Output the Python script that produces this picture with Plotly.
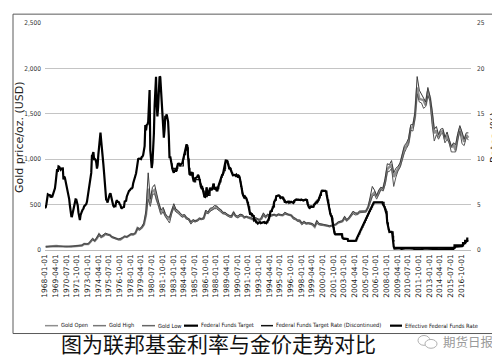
import pandas as pd
import plotly.graph_objects as go

# ---------------- data ----------------
# Gold, quarterly samples (USD/oz)
gold_open = [
    35.2, 38.0, 39.5, 39.3, 42.5, 43.3, 42.0, 40.8, 35.0, 35.8, 35.3, 37.5,
    37.9, 39.5, 40.9, 42.5, 45.7, 49.0, 65.7, 64.9, 65.1, 90.5, 120.0, 100.1,
    129.2, 172.2, 143.0, 154.1, 176.3, 169.7, 166.3, 142.9, 131.6, 128.4, 117.8, 116.0,
    132.3, 149.2, 143.0, 158.5, 173.2, 170.9, 183.1, 242.0, 227.3, 245.3, 281.8, 391.7,
    675.3, 517.0, 643.0, 661.2, 557.0, 494.0, 409.0, 447.0, 384.0, 350.5, 342.0, 423.0,
    480.0, 432.0, 422.0, 394.0, 370.0, 380.0, 348.0, 340.0, 303.0, 324.0, 317.0, 325.0,
    345.0, 340.0, 348.0, 423.0, 408.0, 438.0, 449.0, 467.0, 476.0, 450.0, 437.0, 406.0,
    404.0, 385.0, 375.0, 367.0, 410.0, 373.0, 362.0, 380.0, 383.0, 357.0, 367.0, 357.0,
    354.0, 338.0, 352.0, 344.0, 329.0, 342.0, 393.0, 364.0, 387.0, 376.0, 385.0, 389.0,
    379.0, 392.0, 386.0, 383.0, 400.0, 393.0, 383.0, 381.0, 355.0, 344.0, 324.0, 324.0,
    289.0, 308.0, 293.0, 296.0, 287.0, 282.0, 256.0, 311.0, 284.0, 280.0, 282.0, 270.0,
    266.0, 261.0, 268.0, 279.0, 282.0, 302.0, 314.0, 317.0, 357.0, 328.0, 347.0, 379.0,
    414.0, 404.0, 398.0, 420.0, 424.0, 429.0, 425.0, 470.0, 550.0, 610.0, 633.0, 586.0,
    631.0, 679.0, 665.0, 754.0, 889.0, 910.0, 940.0, 806.0, 858.0, 891.0, 934.0, 1043.0,
    1118.0, 1148.0, 1193.0, 1342.0, 1356.0, 1474.0, 1790.0, 1665.0, 1656.0, 1650.0, 1594.0, 1747.0,
    1670.0, 1487.0, 1286.0, 1316.0, 1244.0, 1299.0, 1311.0, 1222.0, 1251.0, 1197.0, 1130.0, 1159.0,
    1097.0, 1242.0, 1337.0, 1266.0, 1192.0, 1266.0, 1236.0,
]
gold_high = [
    36.5, 41.5, 40.5, 40.5, 43.8, 44.0, 42.8, 41.5, 35.6, 36.2, 36.0, 38.0,
    38.5, 40.5, 42.5, 43.0, 48.5, 54.0, 70.0, 66.0, 72.0, 102.0, 127.0, 104.0,
    140.0, 179.5, 152.0, 165.0, 185.0, 176.0, 168.0, 148.0, 135.0, 130.0, 120.0, 124.0,
    136.0, 152.0, 146.0, 163.0, 178.0, 176.0, 190.0, 245.0, 235.0, 255.0, 300.0, 440.0,
    850.0, 560.0, 690.0, 720.0, 600.0, 520.0, 440.0, 470.0, 400.0, 370.0, 360.0, 440.0,
    510.0, 450.0, 435.0, 405.0, 385.0, 390.0, 358.0, 345.0, 310.0, 335.0, 322.0, 330.0,
    350.0, 345.0, 357.0, 440.0, 415.0, 460.0, 465.0, 490.0, 485.0, 460.0, 445.0, 415.0,
    415.0, 395.0, 380.0, 375.0, 420.0, 380.0, 375.0, 395.0, 390.0, 365.0, 370.0, 362.0,
    360.0, 345.0, 358.0, 348.0, 335.0, 360.0, 406.0, 370.0, 395.0, 382.0, 390.0, 393.0,
    383.0, 396.0, 390.0, 387.0, 416.0, 398.0, 388.0, 385.0, 360.0, 348.0, 330.0, 330.0,
    295.0, 315.0, 296.0, 300.0, 292.0, 292.0, 262.0, 325.0, 292.0, 288.0, 285.0, 273.0,
    270.0, 268.0, 272.0, 283.0, 286.0, 310.0, 318.0, 322.0, 370.0, 335.0, 355.0, 388.0,
    427.0, 408.0, 405.0, 428.0, 430.0, 435.0, 430.0, 475.0, 575.0, 700.0, 660.0, 600.0,
    660.0, 690.0, 680.0, 790.0, 950.0, 940.0, 985.0, 850.0, 900.0, 920.0, 960.0, 1070.0,
    1150.0, 1180.0, 1230.0, 1380.0, 1380.0, 1520.0, 1910.0, 1760.0, 1720.0, 1670.0, 1630.0, 1790.0,
    1690.0, 1540.0, 1330.0, 1360.0, 1270.0, 1330.0, 1340.0, 1240.0, 1300.0, 1220.0, 1140.0, 1180.0,
    1160.0, 1280.0, 1370.0, 1300.0, 1220.0, 1290.0, 1290.0,
]
gold_low = [
    35.0, 37.5, 38.5, 38.8, 42.0, 42.5, 41.0, 39.5, 34.7, 35.2, 34.9, 37.0,
    37.5, 39.0, 40.5, 42.0, 45.0, 48.0, 63.5, 63.0, 64.0, 88.0, 110.0, 96.0,
    125.0, 160.0, 137.0, 150.0, 172.0, 165.0, 158.0, 138.0, 128.0, 126.0, 112.0, 114.0,
    130.0, 146.0, 140.0, 156.0, 170.0, 168.0, 180.0, 225.0, 220.0, 240.0, 277.0, 380.0,
    560.0, 480.0, 610.0, 620.0, 530.0, 470.0, 390.0, 420.0, 370.0, 330.0, 297.0, 400.0,
    470.0, 420.0, 405.0, 380.0, 362.0, 370.0, 340.0, 330.0, 285.0, 315.0, 310.0, 318.0,
    335.0, 335.0, 340.0, 410.0, 400.0, 425.0, 440.0, 455.0, 455.0, 440.0, 425.0, 400.0,
    395.0, 378.0, 362.0, 360.0, 400.0, 365.0, 355.0, 375.0, 375.0, 355.0, 360.0, 352.0,
    348.0, 335.0, 345.0, 338.0, 326.0, 338.0, 380.0, 355.0, 380.0, 370.0, 380.0, 383.0,
    374.0, 385.0, 382.0, 380.0, 397.0, 388.0, 380.0, 376.0, 340.0, 338.0, 315.0, 310.0,
    280.0, 300.0, 285.0, 290.0, 283.0, 276.0, 252.0, 295.0, 280.0, 273.0, 275.0, 264.0,
    262.0, 256.0, 265.0, 275.0, 278.0, 298.0, 305.0, 312.0, 345.0, 320.0, 342.0, 370.0,
    400.0, 385.0, 390.0, 410.0, 415.0, 420.0, 418.0, 460.0, 530.0, 590.0, 610.0, 560.0,
    610.0, 665.0, 650.0, 720.0, 860.0, 865.0, 900.0, 700.0, 800.0, 870.0, 910.0, 1000.0,
    1070.0, 1120.0, 1160.0, 1320.0, 1310.0, 1450.0, 1720.0, 1630.0, 1620.0, 1560.0, 1580.0, 1700.0,
    1640.0, 1380.0, 1200.0, 1270.0, 1220.0, 1270.0, 1290.0, 1180.0, 1220.0, 1180.0, 1080.0, 1080.0,
    1080.0, 1210.0, 1310.0, 1170.0, 1150.0, 1240.0, 1210.0,
]
gold_dates = pd.date_range("1968-02-01", periods=len(gold_open), freq="3MS")

# Effective Federal Funds Rate, monthly from 1968-01 (%)
effr = [
    4.61, 4.71, 5.05, 5.76, 6.12, 6.07, 6.02, 6.03, 5.78, 5.91, 5.82, 6.02,
    6.30, 6.64, 6.79, 7.41, 8.67, 8.90, 8.61, 9.19, 9.15, 9.00, 8.85, 8.97,
    8.98, 8.98, 7.76, 8.10, 7.94, 7.60, 7.21, 6.61, 6.29, 6.20, 5.60, 4.90,
    4.14, 3.72, 3.71, 4.16, 4.63, 4.91, 5.31, 5.57, 5.55, 5.20, 4.91, 4.14,
    3.50, 3.29, 3.83, 4.17, 4.27, 4.46, 4.55, 4.80, 4.87, 5.04, 5.06, 5.33,
    5.94, 6.58, 7.09, 7.12, 7.84, 8.49, 10.40, 10.50, 10.78, 10.01, 10.03, 9.95,
    9.65, 8.97, 9.35, 10.51, 11.31, 11.93, 12.92, 12.01, 11.34, 10.06, 9.45, 8.53,
    7.13, 6.24, 5.54, 5.49, 5.22, 5.55, 6.10, 6.14, 6.24, 5.82, 5.22, 5.20,
    4.87, 4.77, 4.84, 4.82, 5.29, 5.48, 5.31, 5.29, 5.25, 5.03, 4.95, 4.65,
    4.61, 4.68, 4.69, 4.73, 5.35, 5.39, 5.42, 5.90, 6.14, 6.47, 6.51, 6.56,
    6.70, 6.78, 6.79, 6.89, 7.36, 7.60, 7.81, 8.04, 8.45, 8.96, 9.76, 10.03,
    10.07, 10.06, 10.09, 10.01, 10.24, 10.29, 10.47, 10.94, 11.43, 13.77, 13.18, 13.78,
    13.82, 14.13, 17.19, 17.61, 10.98, 9.47, 9.03, 9.61, 10.87, 12.81, 15.85, 18.90,
    19.08, 15.93, 14.70, 15.72, 18.52, 19.10, 19.04, 17.82, 15.87, 15.08, 13.31, 12.37,
    13.22, 14.78, 14.68, 14.94, 14.45, 14.15, 12.59, 10.12, 10.31, 9.71, 9.20, 8.95,
    8.68, 8.51, 8.77, 8.80, 8.63, 8.98, 9.37, 9.56, 9.45, 9.48, 9.34, 9.47,
    9.56, 9.59, 9.91, 10.29, 10.32, 11.06, 11.23, 11.64, 11.30, 9.99, 9.43, 8.38,
    8.35, 8.50, 8.58, 8.27, 7.97, 7.53, 7.88, 7.90, 7.92, 7.99, 8.05, 8.27,
    8.14, 7.86, 7.48, 6.99, 6.85, 6.92, 6.56, 6.17, 5.89, 5.85, 6.04, 6.91,
    6.43, 6.10, 6.13, 6.37, 6.85, 6.73, 6.58, 6.73, 7.22, 7.29, 6.69, 6.77,
    6.83, 6.58, 6.58, 6.87, 7.09, 7.51, 7.75, 8.01, 8.19, 8.30, 8.35, 8.76,
    9.12, 9.36, 9.85, 9.84, 9.81, 9.53, 9.24, 8.99, 9.02, 8.84, 8.55, 8.45,
    8.23, 8.24, 8.28, 8.26, 8.18, 8.29, 8.15, 8.13, 8.20, 8.11, 7.81, 7.31,
    6.91, 6.25, 6.12, 5.91, 5.78, 5.90, 5.82, 5.66, 5.45, 5.21, 4.81, 4.43,
    4.03, 4.06, 3.98, 3.73, 3.82, 3.76, 3.25, 3.30, 3.22, 3.10, 3.09, 2.92,
    3.02, 3.03, 3.07, 2.96, 3.00, 3.04, 3.06, 3.03, 3.09, 2.99, 3.02, 2.96,
    3.05, 3.25, 3.34, 3.56, 4.01, 4.25, 4.26, 4.47, 4.73, 4.76, 5.29, 5.45,
    5.53, 5.92, 5.98, 6.05, 6.01, 6.00, 5.85, 5.74, 5.80, 5.76, 5.80, 5.60,
    5.56, 5.22, 5.31, 5.22, 5.24, 5.27, 5.40, 5.22, 5.30, 5.24, 5.31, 5.29,
    5.25, 5.19, 5.39, 5.51, 5.50, 5.56, 5.52, 5.54, 5.54, 5.50, 5.52, 5.50,
    5.56, 5.51, 5.49, 5.45, 5.49, 5.56, 5.54, 5.55, 5.51, 5.07, 4.83, 4.68,
    4.63, 4.76, 4.81, 4.74, 4.74, 4.76, 4.99, 5.07, 5.22, 5.20, 5.42, 5.30,
    5.45, 5.73, 5.85, 6.02, 6.27, 6.53, 6.54, 6.50, 6.52, 6.51, 6.51, 6.40,
    5.98, 5.49, 5.31, 4.80, 4.21, 3.97, 3.77, 3.65, 3.07, 2.49, 2.09, 1.82,
    1.73, 1.74, 1.73, 1.75, 1.75, 1.75, 1.73, 1.74, 1.75, 1.75, 1.34, 1.24,
    1.24, 1.26, 1.25, 1.26, 1.26, 1.22, 1.01, 1.03, 1.01, 1.01, 1.00, 0.98,
    1.00, 1.01, 1.00, 1.00, 1.00, 1.03, 1.26, 1.43, 1.61, 1.76, 1.93, 2.16,
    2.28, 2.50, 2.63, 2.79, 3.00, 3.04, 3.26, 3.50, 3.62, 3.78, 4.00, 4.16,
    4.29, 4.49, 4.59, 4.79, 4.94, 4.99, 5.24, 5.25, 5.25, 5.25, 5.25, 5.24,
    5.25, 5.26, 5.26, 5.25, 5.25, 5.25, 5.26, 5.02, 4.94, 4.76, 4.49, 4.24,
    3.94, 2.98, 2.61, 2.28, 1.98, 2.00, 2.01, 2.00, 1.81, 0.97, 0.39, 0.16,
    0.15, 0.22, 0.18, 0.15, 0.18, 0.21, 0.16, 0.16, 0.15, 0.12, 0.12, 0.12,
    0.11, 0.13, 0.16, 0.20, 0.20, 0.18, 0.18, 0.19, 0.19, 0.19, 0.19, 0.18,
    0.17, 0.16, 0.14, 0.10, 0.09, 0.09, 0.07, 0.10, 0.08, 0.07, 0.08, 0.07,
    0.08, 0.10, 0.13, 0.14, 0.16, 0.16, 0.16, 0.13, 0.14, 0.16, 0.16, 0.16,
    0.14, 0.15, 0.14, 0.15, 0.11, 0.09, 0.09, 0.08, 0.08, 0.09, 0.08, 0.09,
    0.07, 0.07, 0.08, 0.09, 0.09, 0.10, 0.09, 0.09, 0.09, 0.09, 0.09, 0.12,
    0.11, 0.11, 0.11, 0.12, 0.12, 0.13, 0.13, 0.14, 0.14, 0.12, 0.12, 0.24,
    0.34, 0.38, 0.36, 0.37, 0.37, 0.38, 0.39, 0.40, 0.40, 0.40, 0.41, 0.54,
    0.65, 0.66, 0.79, 0.90, 0.91, 1.04, 1.15,
]
effr_dates = pd.date_range("1968-01-01", periods=len(effr), freq="MS")

# Federal Funds Target Rate (Discontinued), step changes
target_disc_dates = [
    "1982-10-01", "1982-11-20", "1983-05-20", "1983-06-24", "1983-07-20", "1983-10-01",
    "1984-03-15", "1984-04-05", "1984-06-15", "1984-07-15", "1984-09-20", "1984-10-15",
    "1984-11-20", "1984-12-20", "1985-02-20", "1985-05-20", "1985-06-20", "1985-08-20",
    "1986-03-07", "1986-04-21", "1986-07-11", "1986-08-21", "1987-01-01", "1987-05-01",
    "1987-09-04", "1987-11-04", "1988-01-28", "1988-03-30", "1988-05-09", "1988-06-22",
    "1988-08-09", "1988-09-26", "1988-11-17", "1988-12-15", "1989-02-09", "1989-02-24",
    "1989-06-06", "1989-07-07", "1989-10-18", "1989-11-06", "1989-12-20", "1990-07-13",
    "1990-10-29", "1990-11-13", "1990-12-07", "1991-01-09", "1991-02-01", "1991-03-08",
    "1991-04-30", "1991-08-06", "1991-09-13", "1991-10-31", "1991-11-06", "1991-12-20",
    "1992-04-09", "1992-07-02", "1992-09-04", "1994-02-04", "1994-03-22", "1994-04-18",
    "1994-05-17", "1994-08-16", "1994-11-15", "1995-02-01", "1995-07-06", "1995-12-19",
    "1996-01-31", "1997-03-25", "1998-09-29", "1998-10-15", "1998-11-17", "1999-06-30",
    "1999-08-24", "1999-11-16", "2000-02-02", "2000-03-21", "2000-05-16", "2001-01-03",
    "2001-01-31", "2001-03-20", "2001-04-18", "2001-05-15", "2001-06-27", "2001-08-21",
    "2001-09-17", "2001-10-02", "2001-11-06", "2001-12-11", "2002-11-06", "2003-06-25",
    "2004-06-30", "2004-08-10", "2004-09-21", "2004-11-10", "2004-12-14", "2005-02-02",
    "2005-03-22", "2005-05-03", "2005-06-30", "2005-08-09", "2005-09-20", "2005-11-01",
    "2005-12-13", "2006-01-31", "2006-03-28", "2006-05-10", "2006-06-29", "2007-09-18",
    "2007-10-31", "2007-12-11", "2008-01-22", "2008-01-30", "2008-03-18", "2008-04-30",
    "2008-10-08", "2008-10-29", "2008-12-15",
]
target_disc = [
    9.50, 9.00, 8.75, 9.00, 9.50, 9.25,
    10.00, 10.50, 11.00, 11.50, 11.25, 10.00,
    9.00, 8.25, 8.50, 7.75, 7.50, 7.75,
    7.25, 6.75, 6.50, 5.88, 6.00, 6.75,
    7.25, 6.75, 6.50, 6.75, 7.25, 7.50,
    8.00, 8.25, 8.50, 8.75, 9.00, 9.75,
    9.50, 9.00, 8.75, 8.50, 8.25, 8.00,
    7.75, 7.50, 7.00, 6.75, 6.25, 6.00,
    5.75, 5.50, 5.25, 5.00, 4.75, 4.00,
    3.75, 3.25, 3.00, 3.25, 3.50, 3.75,
    4.25, 4.75, 5.50, 6.00, 5.75, 5.50,
    5.25, 5.50, 5.25, 5.00, 4.75, 5.00,
    5.25, 5.50, 5.75, 6.00, 6.50, 6.00,
    5.50, 5.00, 4.50, 4.00, 3.75, 3.50,
    3.00, 2.50, 2.00, 1.75, 1.25, 1.00,
    1.25, 1.50, 1.75, 2.00, 2.25, 2.50,
    2.75, 3.00, 3.25, 3.50, 3.75, 4.00,
    4.25, 4.50, 4.75, 5.00, 5.25, 4.75,
    4.50, 4.25, 3.50, 3.00, 2.25, 2.00,
    1.50, 1.00, 1.00,
]

# Federal Funds Target (range upper limit)
target_dates = ["2008-12-16", "2015-12-16", "2016-12-14", "2017-03-15", "2017-06-14", "2017-07-31"]
target = [0.25, 0.50, 0.75, 1.00, 1.25, 1.25]

legend_names = [
    "Gold Open", "Gold High", "Gold Low", "Federal Funds Target",
    "Federal Funds Target Rate (Discontinued)", "Effective Federal Funds Rate",
]
caption = "图为联邦基金利率与金价走势对比"
watermark = "期货日报"

# ---------------- figure ----------------
W_PX, H_PX = 500, 358
L, R, T, B = 37, 463, 11, 242
PW, PH = R - L, B - T


def px(xp):
    return (xp - L) / PW


def py(yp):
    return (B - yp) / PH


GOLD_OPEN_C = "#8f8f8f"
GOLD_HIGH_C = "#3c3c3c"
GOLD_LOW_C = "#555555"

fig = go.Figure()
fig.add_trace(go.Scatter(x=gold_dates, y=gold_open, name=legend_names[0], mode="lines",
                         line=dict(color=GOLD_OPEN_C, width=2.4)))
fig.add_trace(go.Scatter(x=gold_dates, y=gold_high, name=legend_names[1], mode="lines",
                         line=dict(color=GOLD_HIGH_C, width=1)))
fig.add_trace(go.Scatter(x=gold_dates, y=gold_low, name=legend_names[2], mode="lines",
                         line=dict(color=GOLD_LOW_C, width=1)))
fig.add_trace(go.Scatter(x=target_dates, y=target, name=legend_names[3], mode="lines",
                         line=dict(color="#000000", width=2.2, shape="hv"), yaxis="y2"))
fig.add_trace(go.Scatter(x=target_disc_dates, y=target_disc, name=legend_names[4], mode="lines",
                         line=dict(color="#111111", width=1.2, shape="hv"), yaxis="y2"))
fig.add_trace(go.Scatter(x=effr_dates, y=effr, name=legend_names[5], mode="lines",
                         line=dict(color="#000000", width=2.2), yaxis="y2"))

tick_font = dict(family="DejaVu Sans Condensed, sans-serif", size=6.5, color="#333333")

fig.update_layout(
    width=W_PX, height=H_PX,
    margin=dict(l=L, r=W_PX - R, t=T, b=H_PX - B),
    paper_bgcolor="white", plot_bgcolor="white",
    showlegend=False,
    xaxis=dict(
        type="date", range=["1968-01-01", "2017-11-20"],
        tick0="1968-01-01", dtick="M15", tickformat="%Y-%m-%d", tickangle=-90,
        tickfont=dict(family="DejaVu Sans", size=7.5, color="#222222"),
        showgrid=False, showline=True, linecolor="#bdbdbd", linewidth=1.2, ticks="",
        zeroline=False,
    ),
    yaxis=dict(
        range=[0, 2500], dtick=500, tickformat=",", tickfont=tick_font,
        showgrid=True, gridcolor="#c4c4c4", gridwidth=1.2, zeroline=False, ticks="",
        showline=False, ticklabelstandoff=3,
    ),
    yaxis2=dict(
        range=[0, 25], dtick=5, overlaying="y", side="right", tickfont=tick_font,
        showgrid=False, zeroline=False, ticks="", showline=False, ticklabelstandoff=5,
    ),
)

annotations = []
# axis titles
annotations.append(dict(text="Gold price/oz. (USD)", x=px(12), y=py(128), xref="paper", yref="paper",
                        textangle=-90, showarrow=False, xanchor="center", yanchor="middle",
                        font=dict(family="DejaVu Sans", size=11, color="#222222")))
annotations.append(dict(text="Rates (%)", x=px(486), y=py(128), xref="paper", yref="paper",
                        textangle=-90, showarrow=False, xanchor="center", yanchor="middle",
                        font=dict(family="DejaVu Sans", size=10.5, color="#222222")))

# manual legend (compact, like the reference)
legend_line_x = [(37, 50), (85, 98), (134, 147), (176, 190), (253, 265), (382, 394)]
legend_text_x = [51, 99, 148, 191, 266, 395]
legend_colors = [GOLD_OPEN_C, "#777777", "#666666", "#000000", "#111111", "#000000"]
legend_widths = [1.5, 1.5, 1.5, 2.2, 1.5, 2.2]
legend_y = 319
legend_font = dict(family="DejaVu Sans Condensed, sans-serif", size=5.7, color="#111111")
shapes = []
for (x0, x1), tx, name, c, w in zip(legend_line_x, legend_text_x, legend_names, legend_colors, legend_widths):
    shapes.append(dict(type="line", xref="paper", yref="paper", x0=px(x0), x1=px(x1),
                       y0=py(legend_y), y1=py(legend_y), line=dict(color=c, width=w)))
    annotations.append(dict(text=name, x=px(tx), y=py(legend_y), xref="paper", yref="paper",
                            showarrow=False, xanchor="left", yanchor="middle", font=legend_font))

# outer frame of the chart
shapes.append(dict(type="rect", xref="paper", yref="paper", x0=px(5), x1=px(490), y0=py(2), y1=py(327),
                   line=dict(color="#5a5a5a", width=1), fillcolor="rgba(0,0,0,0)", layer="below"))

# caption and watermark
annotations.append(dict(text=caption, x=px(210), y=py(337), xref="paper", yref="paper", showarrow=False,
                        xanchor="center", yanchor="middle",
                        font=dict(family="Noto Sans CJK SC", size=21, color="#111111")))
annotations.append(dict(text=watermark, x=px(460), y=py(335), xref="paper", yref="paper", showarrow=False,
                        xanchor="center", yanchor="middle",
                        font=dict(family="Noto Sans CJK SC", size=12.5, color="#9a9a9a")))
# small chat-bubble icon next to the watermark
shapes.append(dict(type="circle", xref="paper", yref="paper", x0=px(410), x1=px(422), y0=py(339), y1=py(329),
                   line=dict(color="#b0b0b0", width=1)))
shapes.append(dict(type="circle", xref="paper", yref="paper", x0=px(417), x1=px(429), y0=py(342), y1=py(333),
                   line=dict(color="#b0b0b0", width=1), fillcolor="white"))

fig.update_layout(annotations=annotations, shapes=shapes)

fig.write_html("out.html")
